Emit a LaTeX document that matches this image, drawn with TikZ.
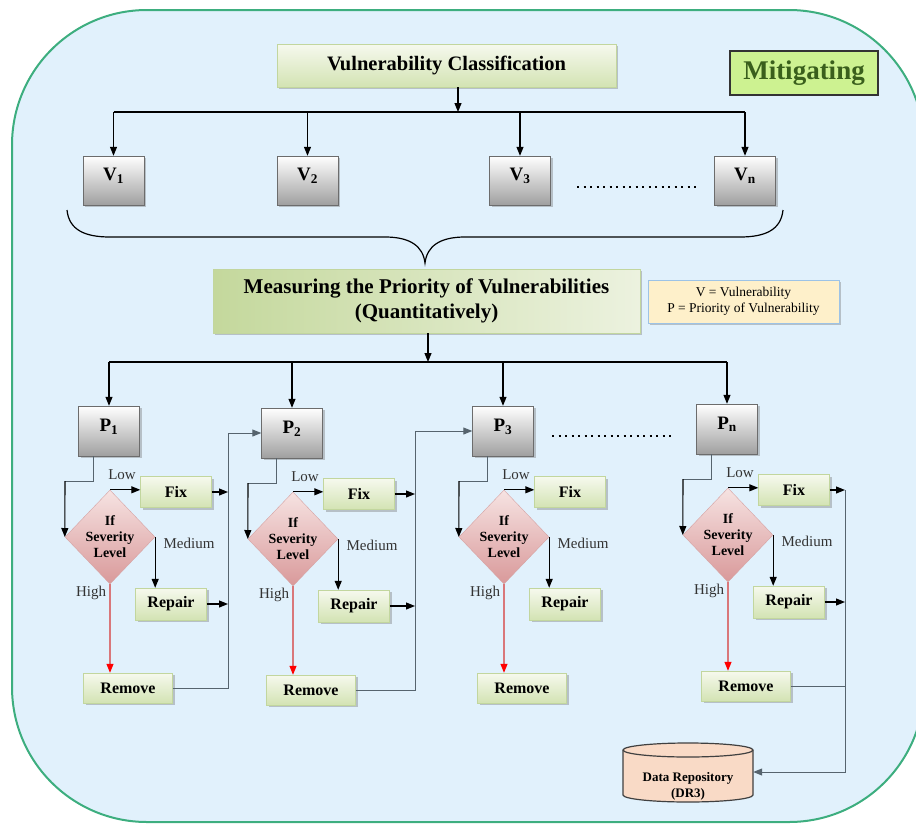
\documentclass[tikz,border=0pt]{standalone}
\usepackage{fontspec}
\setmainfont{Liberation Serif}
\usetikzlibrary{shapes.geometric, arrows.meta, shadows, positioning}

\definecolor{bgblue}{HTML}{E1F1FC}
\definecolor{rimgreen}{HTML}{3DAE7F}
\definecolor{boxtop}{HTML}{F6F9EE}
\definecolor{boxbot}{HTML}{D3E3B3}
\definecolor{boxline}{HTML}{C2D69E}
\definecolor{mpleft}{HTML}{C4D89C}
\definecolor{mpright}{HTML}{ECF2DF}
\definecolor{pinktop}{HTML}{F6E3E2}
\definecolor{pinkbot}{HTML}{D9999A}
\definecolor{pinkline}{HTML}{D6A3A3}
\definecolor{mitfill}{HTML}{CDF291}
\definecolor{mittext}{HTML}{3A5F1C}
\definecolor{legfill}{HTML}{FEF0CA}
\definecolor{legline}{HTML}{9DC3E6}
\definecolor{repofill}{HTML}{F9DAC6}
\definecolor{wiregray}{HTML}{56646E}
\definecolor{hotred}{HTML}{D9777A}

\tikzset{
  shadowed/.style={drop shadow={shadow xshift=2pt, shadow yshift=-2pt, opacity=0.35, fill=black!60}},
  greenbox/.style={draw=boxline, top color=boxtop, bottom color=boxbot, shadowed,
    inner sep=0pt, font=\bfseries\fontsize{16}{18}\selectfont},
  graybox/.style={draw=gray!85!black, top color=white, bottom color=gray!75, shadowed,
    minimum width=61pt, minimum height=50pt, text depth=12pt, font=\bfseries\fontsize{19}{21}\selectfont},
  sev/.style={diamond, draw=pinkline, top color=pinktop, bottom color=pinkbot,
    minimum width=90pt, minimum height=94pt, inner sep=0pt},
  sevtext/.style={align=center, font=\bfseries\fontsize{14}{16}\selectfont},
  tagtext/.style={text=black!80, font=\fontsize{15}{17}\selectfont},
  arr/.style={-{Triangle[length=9pt,width=7pt]}, line width=1.1pt},
  bus/.style={line width=1.5pt},
  wire/.style={draw=wiregray, line width=1pt},
  redarr/.style={draw=hotred, line width=1.1pt, -{Triangle[length=9pt,width=7pt,color=red]}},
  dotrow/.style={line width=2pt, dash pattern=on 2pt off 4.5pt}
}

\begin{document}
\begin{tikzpicture}[x=1pt, y=-1pt]
\useasboundingbox (0,0) rectangle (916,825);

% Frame
\draw[draw=rimgreen, line width=2pt, fill=bgblue, rounded corners=135pt] (12,10) rectangle (924,822);

% Classification
\node[greenbox, minimum width=339pt, minimum height=43pt, font=\bfseries\fontsize{20.5}{22}\selectfont] (vc) at (446.5,65.5) {Vulnerability Classification};
\node[draw=black!80, line width=1.2pt, fill=mitfill, text=mittext, minimum width=148pt, minimum height=44pt,
  font=\bfseries\fontsize{27}{29}\selectfont] (mit) at (804,73) {Mitigating};

\foreach \i/\x in {1/113.5, 2/307.5, 3/520, n/745}
  \node[graybox, minimum height=49pt] (v\i) at (\x,180.5) {V\textsubscript{\i}};

\coordinate (t1) at (458,112);
\draw[arr] (vc.south -| t1) -- (t1);
\draw[bus] (v1.north |- t1) -- (vn.north |- t1);
\foreach \v in {v1,v2,v3,vn}
  \draw[arr] (\v.north |- t1) -- (\v.north);
\draw[dotrow] (577,187) -- (700,187);

% Brace
\draw[line width=1.2pt] (67,210) .. controls (69,230) and (85,237) .. (110,237) -- (385,237)
  .. controls (410,237) and (423,246) .. (425,263) .. controls (427,246) and (440,237) .. (465,237)
  -- (740,237) .. controls (765,237) and (781,230) .. (783,210);

% Priority
\node[draw=boxline, left color=mpleft, right color=mpright, shadowed, minimum width=427pt, minimum height=64pt,
  align=center, font=\bfseries\fontsize{21}{25}\selectfont] (mp) at (426.5,301) {Measuring the Priority of Vulnerabilities\\(Quantitatively)};
\node[draw=legline, fill=legfill, shadowed, minimum width=191pt, minimum height=43pt, align=center,
  font=\fontsize{13.5}{16}\selectfont] (legend) at (743.5,301.5) {V = Vulnerability\\P = Priority of Vulnerability};

% Groups
\foreach \i/\x/\y in {1/109/431, 2/292/433, 3/503/431, n/727/429} {
  \node[graybox] (p\i) at (\x,\y) {P\textsubscript{\i}};
  \node[sev] (d\i) at ({\x+1},{\y+106}) {};
  \node[sevtext] (s\i) at (d\i) {If\\Severity\\Level};
  \node[greenbox, minimum width=71pt, minimum height=31pt] (fix\i) at ({\x+67},{\y+61}) {Fix};
  \node[greenbox, minimum width=71pt, minimum height=32pt] (rep\i) at ({\x+62},{\y+173}) {Repair};
  \node[greenbox, minimum width=89pt, minimum height=30pt] (rem\i) at ({\x+19},{\y+257}) {Remove};
  \node[tagtext] (low\i) at ({\x+13},{\y+44}) {Low};
  \node[tagtext] (med\i) at ({\x+80},{\y+112}) {Medium};
  \node[tagtext] (high\i) at ({\x-18},{\y+162}) {High};
  \coordinate (k\i) at ({\x-44},{\y+50});
  \draw[wire] ([xshift=-16pt]p\i.south) |- (k\i);
  \draw[arr] (k\i) -- (d\i.west);
  \draw[arr] (d\i.north) -- (d\i.north -| fix\i.west);
  \draw[arr] (d\i.east) -- (d\i.east |- rep\i.north);
  \draw[redarr] (d\i.south) -- (d\i.south |- rem\i.north);
}
\draw[dotrow] (552,436) -- (675,436);

\coordinate (t2) at (428,362);
\draw[arr] (mp.south -| t2) -- (t2);
\draw[bus] (p1.north |- t2) -- (pn.north |- t2);
\foreach \i in {1,2,3,n}
  \draw[arr] (p\i.north |- t2) -- (p\i.north);

% Feedback
\coordinate (c1) at (228,0);
\coordinate (c2) at (415,0);
\coordinate (cn) at (845,0);
\foreach \i/\j in {1/2, 2/3} {
  \draw[arr] (fix\i.east) -- (fix\i.east -| c\i);
  \draw[arr] (rep\i.east) -- (rep\i.east -| c\i);
  \draw[wire] (rem\i.east) -| (c\i |- p\j.west);
  \draw[arr, wire] (c\i |- p\j.west) -- (p\j.west);
}

% Repository
\draw[draw=black!75, line width=1.2pt, fill=repofill] (623,750) -- (623,795)
  arc[start angle=180, end angle=360, x radius=65pt, y radius=7pt] -- (753,750)
  arc[start angle=0, end angle=180, x radius=65pt, y radius=7pt] -- cycle;
\draw[draw=black!75, line width=1.2pt] (623,750) arc[start angle=180, end angle=360, x radius=65pt, y radius=7pt];
\node[minimum width=130pt, minimum height=30pt, align=center, font=\bfseries\fontsize{13}{16}\selectfont] (repo) at (688,786) {Data Repository\\(DR3)};

\draw[arr] (fixn.east) -- (fixn.east -| cn);
\draw[arr] (repn.east) -- (repn.east -| cn);
\draw[wire] (remn.east) -- (remn.east -| cn);
\draw[arr, wire] (fixn.east -| cn) |- ([yshift=14pt]repo.east);
\end{tikzpicture}
\end{document}
